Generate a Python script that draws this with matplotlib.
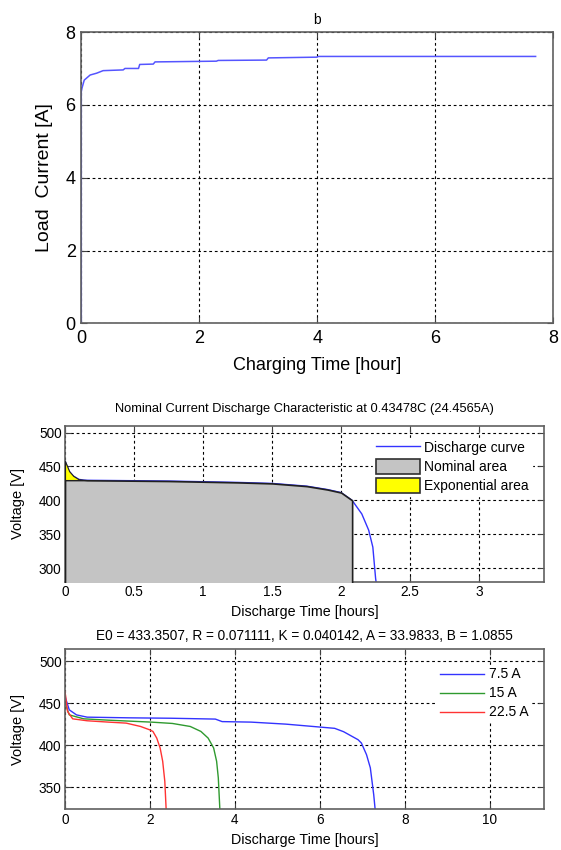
import numpy as np
import matplotlib
matplotlib.use("Agg")
import matplotlib.pyplot as plt
from matplotlib.patches import Patch
from matplotlib.lines import Line2D

plt.rcParams['font.family'] = ['Liberation Sans', 'DejaVu Sans']

# --- (b) charging: load current vs charging time
charge_t = [0.0, 0.0, 0.01, 0.05, 0.15, 0.26, 0.37, 0.71, 0.74, 0.97, 0.99,
            1.22, 1.25, 2.29, 2.32, 3.14, 3.17, 3.99, 4.02, 7.70]
charge_i = [0.0, 6.36, 6.45, 6.68, 6.82, 6.87, 6.94, 6.96, 7.00, 7.00, 7.11,
            7.12, 7.18, 7.20, 7.22, 7.23, 7.29, 7.31, 7.33, 7.33]

# --- nominal current discharge characteristic
disch_t = [0.0, 0.03, 0.06, 0.10, 0.13, 0.16, 0.5, 0.75, 1.0, 1.25, 1.5,
           1.75, 1.9, 2.0, 2.08, 2.15, 2.2, 2.23, 2.25, 2.26]
disch_v = [458, 443, 436, 431, 430, 429.6, 429, 428.5, 427.5, 426.5, 425,
           421, 416, 411.5, 400, 380, 356, 331, 285, 270]
t_exp = 0.13      # end of exponential zone [h]
v_exp = 430       # voltage at end of exponential zone [V]
t_nom = 2.08      # end of nominal zone [h]

# --- discharge curves at several currents
cur_labels = ['7.5 A', '15 A', '22.5 A']
t_75 = [0.0, 0.1, 0.27, 0.52, 1.5, 2.5, 3.54, 3.7, 4.38, 5.2, 5.89, 6.35,
        6.56, 6.9, 6.98, 7.1, 7.19, 7.23, 7.27, 7.31]
v_75 = [458, 442, 436, 433.3, 432.5, 432, 431, 428, 427.4, 425, 422, 420,
        416, 406.5, 402.5, 388.7, 373, 357, 341, 320]
t_15 = [0.0, 0.1, 0.44, 1.02, 2.03, 2.53, 2.95, 3.2, 3.37, 3.5, 3.57, 3.61,
        3.65]
v_15 = [450, 436, 431.3, 429.7, 427.4, 425.8, 422.2, 416.3, 408.4, 396.6,
        380.8, 361, 320]
t_225 = [0.0, 0.06, 0.18, 0.52, 1.02, 1.44, 1.78, 1.99, 2.07, 2.16, 2.24,
         2.3, 2.35, 2.385]
v_225 = [464, 440, 431.3, 429, 427.4, 426.2, 422.2, 418.3, 416.3, 408.4,
         396.6, 380.8, 357, 320]

fig = plt.figure(figsize=(5.61, 8.5), dpi=100)

ax1 = fig.add_axes([0.1449, 0.6196, 0.8414, 0.3427])
ax2 = fig.add_axes([0.1159, 0.3156, 0.8538, 0.1835])
ax3 = fig.add_axes([0.1159, 0.0482, 0.8538, 0.1879])

grid_kw = dict(color='black', linestyle=(0, (2.5, 2.5)), linewidth=0.8)


def style_axes(ax, size):
    for sp in ax.spines.values():
        sp.set_color('#606060')
        sp.set_linewidth(1.2)
    ax.tick_params(direction='in', length=4, width=0.8, color='#404040',
                   top=True, right=True, labelsize=size)
    ax.grid(True, **grid_kw)


# top plot
ax1.plot(charge_t, charge_i, color='#5555ff', lw=1.1)
ax1.set_xlim(0, 8)
ax1.set_ylim(0, 8)
ax1.set_xticks([0, 2, 4, 6, 8])
ax1.set_yticks([0, 2, 4, 6, 8])
style_axes(ax1, 13)
ax1.tick_params(axis='x', pad=5)
ax1.tick_params(axis='y', pad=4)
ax1.set_title('b', fontsize=10, pad=5.5)
ax1.set_xlabel('Charging Time [hour]', fontsize=13)
ax1.set_ylabel('Load  Current [A]', fontsize=14)
ax1.xaxis.set_label_coords(0.5, -0.115)
ax1.yaxis.set_label_coords(-0.059, 0.5)

# middle plot
t = np.array(disch_t)
v = np.array(disch_v)
ax2.set_axisbelow(True)
ax2.plot(t, v, color='#3333ff', lw=1, zorder=2)
nom = t <= t_nom
ax2.fill_between(t[nom], 260, np.minimum(v[nom], v_exp), facecolor='#c4c4c4',
                 edgecolor='#202020', linewidth=1.2, zorder=3)
ex = t <= t_exp
ax2.fill_between(t[ex], v_exp, v[ex], facecolor='#ffff00',
                 edgecolor='#202020', linewidth=0.8, zorder=3)
ax2.set_xlim(0, 3.47)
ax2.set_ylim(280, 510)
ax2.set_xticks([0, 0.5, 1, 1.5, 2, 2.5, 3])
ax2.set_xticklabels(['0', '0.5', '1', '1.5', '2', '2.5', '3'])
ax2.set_yticks([300, 350, 400, 450, 500])
style_axes(ax2, 9.8)
ax2.tick_params(axis='both', pad=2.5)
ax2.set_title('Nominal Current Discharge Characteristic at 0.43478C (24.4565A)',
              fontsize=9.3, pad=10)
ax2.set_xlabel('Discharge Time [hours]', fontsize=10.3)
ax2.set_ylabel('Voltage [V]', fontsize=10.5)
ax2.xaxis.set_label_coords(0.5, -0.150)
ax2.yaxis.set_label_coords(-0.0835, 0.5)
h2 = [Line2D([], [], color='#3333ff', lw=1),
      Patch(facecolor='#c4c4c4', edgecolor='#303030', linewidth=1.2),
      Patch(facecolor='#ffff00', edgecolor='#303030', linewidth=1.2)]
leg2 = ax2.legend(h2, ['Discharge curve', 'Nominal area', 'Exponential area'],
                  loc='upper left', bbox_to_anchor=(0.643, 0.924),
                  borderaxespad=0, borderpad=0.2, fontsize=10,
                  handlelength=3.2, handleheight=1.2, handletextpad=0.3,
                  labelspacing=0.3, fancybox=False, framealpha=1,
                  edgecolor='white')
leg2.set_zorder(5)

# bottom plot
ax3.plot(t_75, v_75, color='#3333ff', lw=1, label=cur_labels[0])
ax3.plot(t_15, v_15, color='#2f9a2f', lw=1, label=cur_labels[1])
ax3.plot(t_225, v_225, color='#ff3333', lw=1, label=cur_labels[2])
ax3.set_xlim(0, 11.28)
ax3.set_ylim(324, 514)
ax3.set_xticks([0, 2, 4, 6, 8, 10])
ax3.set_yticks([350, 400, 450, 500])
style_axes(ax3, 9.8)
ax3.tick_params(axis='both', pad=2.5)
ax3.set_title('E0 = 433.3507, R = 0.071111, K = 0.040142, A = 33.9833, B = 1.0855',
              fontsize=9.8, pad=7)
ax3.set_xlabel('Discharge Time [hours]', fontsize=10.3)
ax3.set_ylabel('Voltage [V]', fontsize=10.5)
ax3.xaxis.set_label_coords(0.5, -0.153)
ax3.yaxis.set_label_coords(-0.0835, 0.5)
ax3.legend(loc='upper left', bbox_to_anchor=(0.777, 0.904),
           borderaxespad=0, borderpad=0.2, fontsize=10, handlelength=3.2,
           handletextpad=0.3, labelspacing=0.36, fancybox=False,
           framealpha=1, edgecolor='white')

fig.savefig('out.png', dpi=100)
